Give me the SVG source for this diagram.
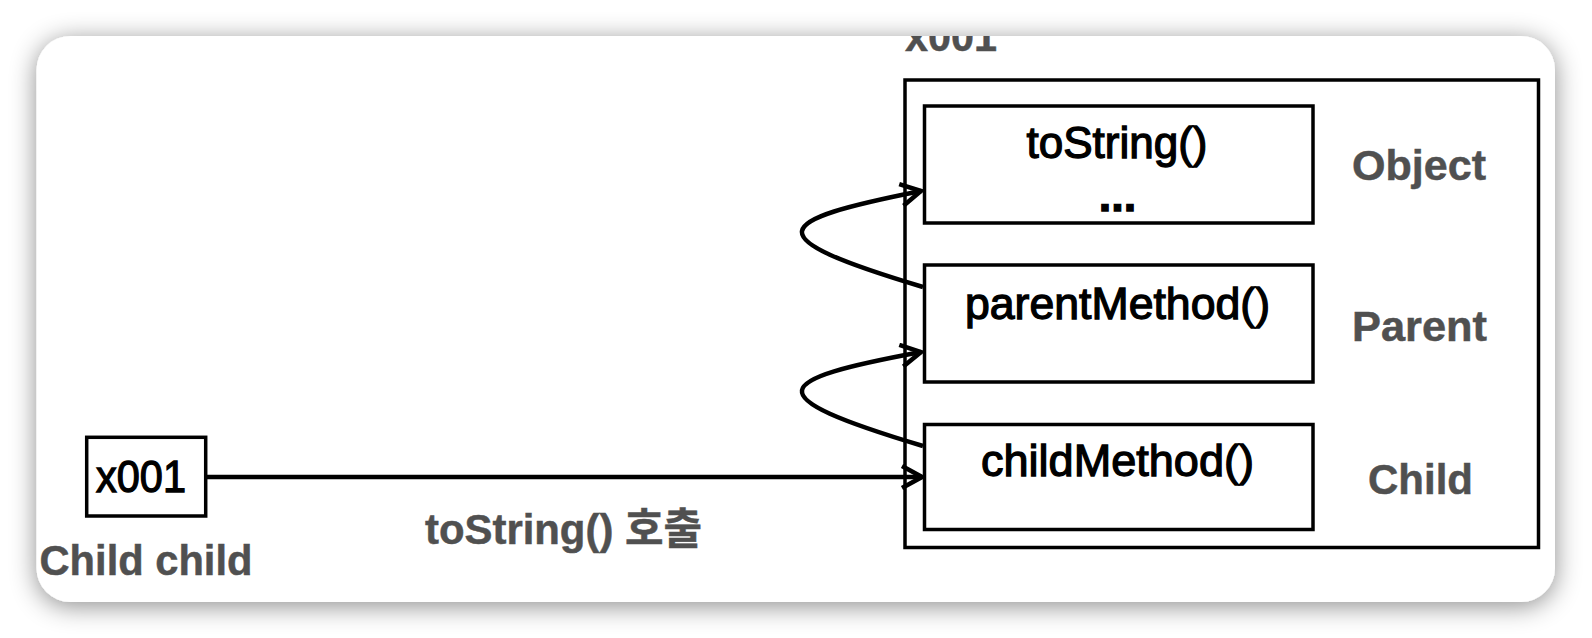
<svg xmlns="http://www.w3.org/2000/svg" width="1592" height="638" viewBox="0 0 1592 638">
  <style>
    .box { fill: #ffffff; stroke: #000000; stroke-width: 3.5; }
    .conn { fill: none; stroke: #000000; stroke-width: 4.5; }
    .txt { font-family: 'Liberation Sans', Arial, 'Noto Sans CJK KR', sans-serif; font-size: 45px; fill: #000000; stroke: #000000; stroke-width: 1.3; }
    .lbl { font-family: 'Liberation Sans', Arial, 'Noto Sans CJK KR', sans-serif; font-size: 43px; font-weight: bold; fill: #505050; stroke: #505050; stroke-width: 0.5; }
  </style>
  <defs>
    <filter id="shadow" x="-5%" y="-10%" width="110%" height="125%">
      <feDropShadow dx="0" dy="4" stdDeviation="13" flood-color="#000000" flood-opacity="0.45"/>
    </filter>
    <clipPath id="cardClip">
      <rect x="36.5" y="36" width="1518.5" height="566" rx="34" ry="34"/>
    </clipPath>
    <marker id="arrow" markerUnits="userSpaceOnUse" viewBox="0 0 26 26" markerWidth="26" markerHeight="26" refX="23" refY="13" orient="auto">
      <path d="M3,2 L23,13 L3,24" fill="none" stroke="#000000" stroke-width="4.5" stroke-linejoin="miter"/>
    </marker>
  </defs>

  <rect x="0" y="0" width="1592" height="638" fill="#ffffff"/>
  <rect id="card" x="36.5" y="36" width="1518.5" height="566" rx="34" ry="34" fill="#ffffff" filter="url(#shadow)"/>

  <g clip-path="url(#cardClip)">
    <g id="heap">
      <rect class="box" x="905" y="80" width="633.5" height="467.5"/>
      <text class="lbl" x="905" y="51" textLength="92" lengthAdjust="spacingAndGlyphs">x001</text>
    </g>

    <g id="object">
      <rect class="box" x="924.5" y="106" width="388.5" height="117"/>
      <text class="txt" x="1117" y="158" text-anchor="middle" textLength="181" lengthAdjust="spacingAndGlyphs">toString()</text>
      <text class="txt" x="1117.5" y="211" text-anchor="middle" font-weight="bold">...</text>
      <text class="lbl" x="1352" y="180" textLength="134" lengthAdjust="spacingAndGlyphs">Object</text>
    </g>

    <g id="parent">
      <rect class="box" x="924.5" y="265" width="388.5" height="117"/>
      <text class="txt" x="1117.5" y="319" text-anchor="middle" textLength="305" lengthAdjust="spacingAndGlyphs">parentMethod()</text>
      <text class="lbl" x="1352" y="341" textLength="135" lengthAdjust="spacingAndGlyphs">Parent</text>
    </g>

    <g id="child">
      <rect class="box" x="924.5" y="424.5" width="388.5" height="105"/>
      <text class="txt" x="1117.5" y="476" text-anchor="middle" textLength="273" lengthAdjust="spacingAndGlyphs">childMethod()</text>
      <text class="lbl" x="1368" y="494" textLength="105" lengthAdjust="spacingAndGlyphs">Child</text>
    </g>

    <g id="ref">
      <rect class="box" x="86.7" y="437.3" width="119" height="78.7"/>
      <text class="txt" x="96" y="492" textLength="90" lengthAdjust="spacingAndGlyphs">x001</text>
      <text class="lbl" x="39.5" y="575" textLength="213" lengthAdjust="spacingAndGlyphs">Child child</text>
    </g>

    <g id="connectors">
      <line class="conn" x1="206" y1="477" x2="922" y2="477" marker-end="url(#arrow)"/>
      <path class="conn" d="M923,287 C753,236 771,221 921,191" marker-end="url(#arrow)"/>
      <path class="conn" d="M923,446 C753,395 771,380 921,352" marker-end="url(#arrow)"/>
      <text class="lbl" x="425" y="544" textLength="277" lengthAdjust="spacingAndGlyphs">toString() 호출</text>
    </g>
  </g>
</svg>
